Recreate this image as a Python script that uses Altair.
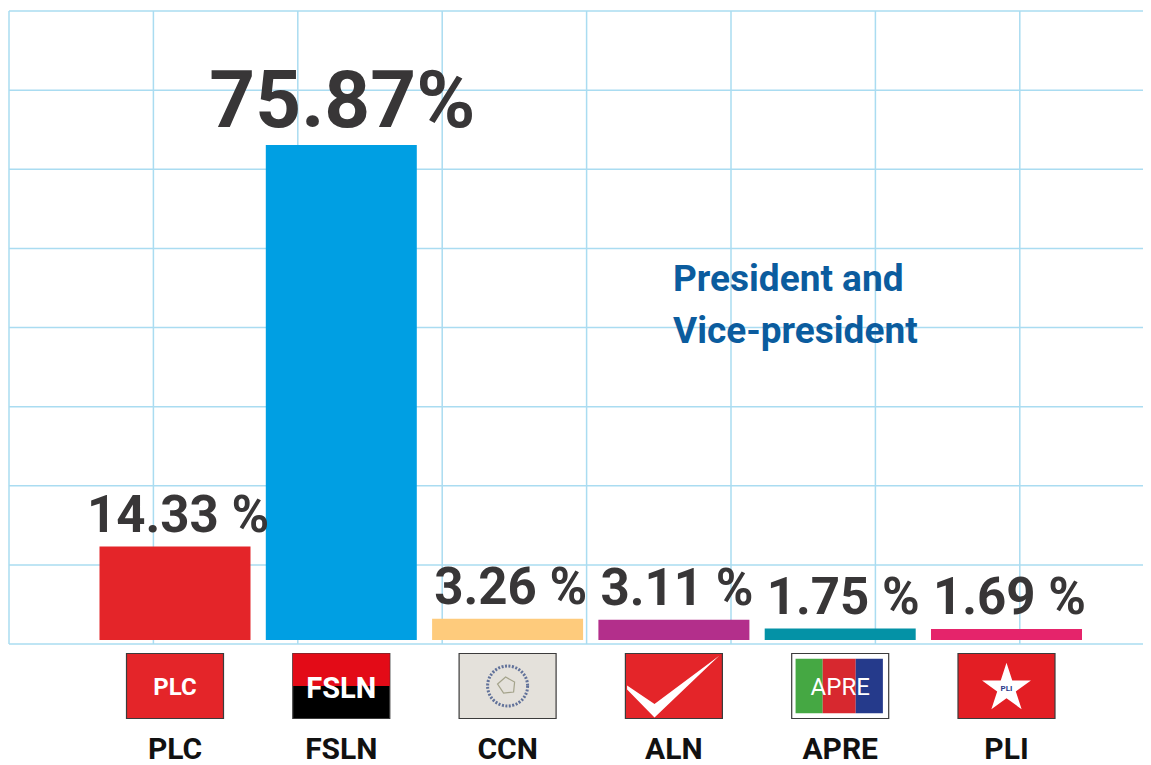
import altair as alt
import pandas as pd

# ---- data ----
parties = ["PLC", "FSLN", "CCN", "ALN", "APRE", "PLI"]
pct = [14.33, 75.87, 3.26, 3.11, 1.75, 1.69]
pct_labels = ["14.33 %", "75.87%", "3.26 %", "3.11 %", "1.75 %", "1.69 %"]
note = "President and\nVice-president"
grid_cols = [0, 1, 2, 3, 4, 5, 6, 7]
grid_rows = [0, 1, 2, 3, 4, 5, 6, 7, 8]

# ---- styles ----
bar_colors = ["#e42529", "#009fe3", "#fecb7c", "#b32f8b", "#0492a6", "#e5246b"]
logo_bg = ["#e42529", "#000000", "#e4e1db", "#e42529", "#ffffff", "#e31e24"]
GRID = "#aadcf1"
FONT = "Roboto, 'Liberation Sans', sans-serif"
W, H = 1134, 633

df = pd.DataFrame({"party": parties, "pct": pct, "label": pct_labels})

xscale = alt.Scale(domain=parties, range=[82.85, 1080.65], paddingInner=0.092, paddingOuter=0.046)
X = alt.X("party:N", scale=xscale, axis=None)
Y = alt.Y("pct:Q", scale=alt.Scale(domain=[-0.613, 96.41], nice=False, zero=False), axis=None)

base = alt.Chart(df)

bars = base.mark_bar().encode(
    x=X, y=Y, y2=alt.datum(0),
    color=alt.Color("party:N", scale=alt.Scale(domain=parties, range=bar_colors), legend=None),
)

vlab_small = base.transform_filter(alt.datum.party != "FSLN").mark_text(
    font=FONT, fontWeight="bold", fontSize=51, color="#383637",
    baseline="alphabetic", dy=-15, dx=3,
).encode(x=X, y=Y, text="label:N")

vlab_big = base.transform_filter(alt.datum.party == "FSLN").mark_text(
    font=FONT, fontWeight="bold", fontSize=80, color="#383637",
    baseline="alphabetic", dy=-18, dx=1,
).encode(x=X, y=Y, text="label:N")

# ---- logos ----
LS = 97 ** 2
LY = alt.value(675)
rect_path = "M-1,-0.67L1,-0.67L1,0.67L-1,0.67Z"

logo_base = base.mark_point(
    shape=rect_path, size=LS, filled=True, opacity=1, stroke="#3b3b3b", strokeWidth=1.2
).encode(
    x=X, y=LY,
    fill=alt.Fill("party:N", scale=alt.Scale(domain=parties, range=logo_bg), legend=None),
)

def part(p, shape, color, size=LS, **kw):
    return base.transform_filter(alt.datum.party == p).mark_point(
        shape=shape, size=size, filled=True, opacity=1, color=color, **kw
    ).encode(x=X, y=LY)

fsln_top = part("FSLN", "M-1,-0.67L1,-0.67L1,0L-1,0Z", "#e30b17")
apre_g = part("APRE", "M-0.92,-0.56L-0.36,-0.56L-0.36,0.56L-0.92,0.56Z", "#45a843")
apre_r = part("APRE", "M-0.36,-0.56L0.32,-0.56L0.32,0.56L-0.36,0.56Z", "#d7282f")
apre_b = part("APRE", "M0.32,-0.56L0.88,-0.56L0.88,0.56L0.32,0.56Z", "#253a8b")
aln_check = part("ALN", "M-0.965,-0.01L-0.4,0.37L0.94,-0.63L-0.4,0.65L-0.965,0.07Z", "#ffffff")
pli_star = part(
    "PLI",
    "M0,-0.48L0.119,-0.113L0.504,-0.114L0.192,0.112L0.312,0.479L0,0.252L-0.312,0.479L-0.192,0.112L-0.504,-0.114L-0.119,-0.113Z",
    "#ffffff",
)
ccn_ring = base.transform_filter(alt.datum.party == "CCN").mark_point(
    shape="circle", size=1600, filled=False, opacity=0.85, stroke="#4b5f8f",
    strokeWidth=3, strokeDash=[2, 1.5],
).encode(x=X, y=LY)
ccn_map = base.transform_filter(alt.datum.party == "CCN").mark_point(
    shape="M-0.5,-0.1L-0.1,-0.45L0.35,-0.2L0.3,0.3L-0.2,0.35Z", size=1600, filled=False,
    opacity=0.7, stroke="#8a8a6a", strokeWidth=1.2,
).encode(x=X, y=LY)

def logo_text(p, size, color, dy=1, weight="bold"):
    return base.transform_filter(alt.datum.party == p).mark_text(
        font=FONT, fontWeight=weight, fontSize=size, color=color, baseline="middle", dy=dy
    ).encode(x=X, y=LY, text="party:N")

t_plc = logo_text("PLC", 24, "#ffffff", dy=2)
t_fsln = logo_text("FSLN", 29, "#ffffff", dy=3)
t_apre = logo_text("APRE", 24, "#ffffff", dy=2, weight="normal")
t_pli = logo_text("PLI", 8, "#2b3a8a", dy=3)

cat_labels = base.mark_text(
    font=FONT, fontWeight="bold", fontSize=30, color="#111111", baseline="alphabetic"
).encode(x=X, y=alt.value(748), text="party:N")

annot = alt.Chart(pd.DataFrame({"note": [note]})).mark_text(
    lineBreak="\n", align="left", baseline="alphabetic", font=FONT, fontWeight="bold",
    fontSize=37, lineHeight=52, color="#0b5c9e",
).encode(text="note:N", x=alt.value(664), y=alt.value(280))

bars_group = alt.layer(
    bars, vlab_small, vlab_big, logo_base, fsln_top, apre_g, apre_r, apre_b,
    aln_check, pli_star, ccn_ring, ccn_map, t_plc, t_fsln, t_apre, t_pli, cat_labels, annot,
)

# ---- grid ----
vgrid = alt.Chart(pd.DataFrame({"col": grid_cols})).mark_rule(color=GRID, strokeWidth=1.5).encode(
    x=alt.X("col:Q", scale=alt.Scale(domain=[0, W / 144.4], nice=False, zero=False), axis=None)
)
hgrid = alt.Chart(pd.DataFrame({"row": grid_rows})).mark_rule(color=GRID, strokeWidth=1.5).encode(
    y=alt.Y("row:Q", scale=alt.Scale(domain=[0, 8], nice=False, zero=False), axis=None)
)
grid_group = alt.layer(vgrid, hgrid)

chart = alt.layer(grid_group, bars_group).resolve_scale(
    x="independent", y="independent"
).properties(
    width=W, height=H,
    autosize=alt.AutoSizeParams(type="none"),
    padding={"left": 1, "top": 3, "right": 0, "bottom": 122},
    background="white",
).configure_view(stroke=None)

chart.save("out.html", embed_options={"renderer": "svg", "actions": False})
